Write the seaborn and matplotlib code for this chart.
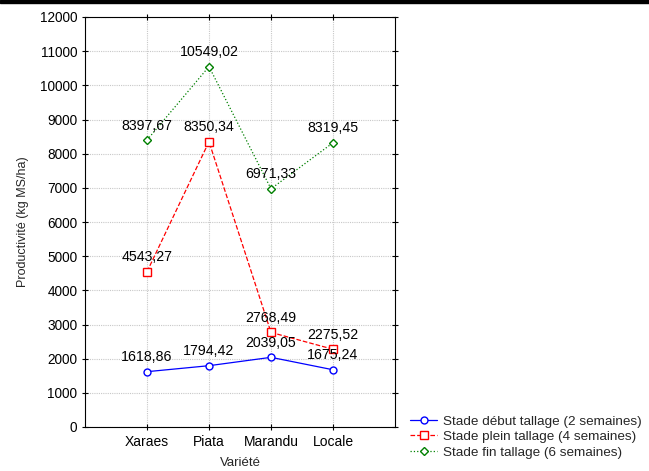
import matplotlib
matplotlib.use("Agg")
import matplotlib.pyplot as plt
import seaborn as sns
import pandas as pd
from matplotlib.lines import Line2D
from matplotlib.patches import Rectangle

varietes = ["Xaraes", "Piata", "Marandu", "Locale"]
debut = [1618.86, 1794.42, 2039.05, 1675.24]
plein = [4543.27, 8350.34, 2768.49, 2275.52]
fin = [8397.67, 10549.02, 6971.33, 8319.45]
series_names = ["Stade début tallage (2 semaines)",
                "Stade plein tallage (4 semaines)",
                "Stade fin tallage (6 semaines)"]
yticks = list(range(0, 12001, 1000))

sns.set_style("white")
plt.rcParams['font.family'] = ['Liberation Sans', 'DejaVu Sans']

rows = []
for name, vals in zip(series_names, [debut, plein, fin]):
    for i, (v, val) in enumerate(zip(varietes, vals)):
        rows.append({"pos": i + 1, "Variété": v, "val": val, "serie": name})
df = pd.DataFrame(rows)

fig = plt.figure(figsize=(6.49, 4.71), dpi=100)
ax = fig.add_axes([85/649, 1 - 427/471, 310/649, 410/471])

colors = ["#0000ff", "#ff0000", "#008000"]
styles = ["-", "--", ":"]
markers = ["o", "s", "D"]
msizes = [5, 6, 4]
for name, c, ls, m, ms in zip(series_names, colors, styles, markers, msizes):
    sub = df[df["serie"] == name]
    sns.lineplot(data=sub, x="pos", y="val", ax=ax, color=c, linestyle=ls,
                 marker=m, markersize=ms, markerfacecolor="white",
                 markeredgecolor=c, markeredgewidth=1, linewidth=0.9,
                 legend=False)
    for x, y in zip(sub["pos"], sub["val"]):
        ax.text(x, y + 220, f"{y:.2f}".replace(".", ","), ha="center",
                va="bottom", fontsize=10.2, color="black")

ax.set_xlim(0, 5)
ax.set_ylim(0, 12000)
ax.set_xticks(range(1, 5))
ax.set_xticklabels(varietes, fontsize=10)
ax.set_yticks(yticks)
ax.set_yticklabels([str(t) for t in yticks], fontsize=9.8)
ax.set_xlabel("Variété", fontsize=9.5, labelpad=6)
ax.set_ylabel("Productivité (kg MS/ha)", fontsize=9, labelpad=8)
ax.grid(True, color="#c8c8c8", linestyle=(0, (1, 1)), linewidth=0.8)
for s in ax.spines.values():
    s.set_color("black")
    s.set_linewidth(0.8)
ax.tick_params(axis="both", which="both", direction="out", length=4,
               bottom=True, left=True, top=True, right=True,
               labeltop=False, labelright=False, colors="black")
ax.tick_params(axis="both", top=True, right=True, direction="inout")

handles = [Line2D([], [], color=c, linestyle=ls, marker=m, markersize=ms,
                  markerfacecolor="white", markeredgecolor=c, linewidth=0.9)
           for c, ls, m, ms in zip(colors, styles, markers, msizes)]
fig.legend(handles, series_names, loc="upper left",
           bbox_to_anchor=(405/649, 1 - 410/471), frameon=False,
           fontsize=9.7, handlelength=2.0, handletextpad=0.4,
           labelspacing=0.22, borderaxespad=0)

fig.add_artist(Rectangle((0, 1 - 3/471), 1, 3/471, transform=fig.transFigure,
                         color="black", zorder=10))
fig.savefig("out.png", dpi=100)
